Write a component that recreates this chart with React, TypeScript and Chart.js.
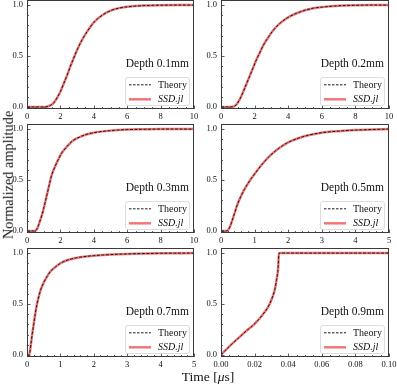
import React, { useEffect, useRef } from "react";
import { Chart, registerables } from "chart.js";

Chart.register(...registerables);

// ---------- data ----------
const depthLabels = ["Depth 0.1mm", "Depth 0.2mm", "Depth 0.3mm", "Depth 0.5mm", "Depth 0.7mm", "Depth 0.9mm"];
const seriesNames = ["Theory", "SSD.jl"];

const t01 = [0, 0.5, 1.0, 1.2, 1.4, 1.6, 1.8, 2.0, 2.2, 2.4, 2.6, 2.8, 3.0, 3.3, 3.6, 4.0, 4.5, 5.0, 5.5, 6.0, 7.0, 8.0, 9.0, 10];
const a01 = [0, 0, 0, 0.003, 0.015, 0.04, 0.09, 0.15, 0.23, 0.31, 0.4, 0.48, 0.56, 0.66, 0.74, 0.83, 0.9, 0.945, 0.97, 0.983, 0.995, 0.999, 1.0, 1.0];

const t02 = [0, 0.5, 0.7, 0.9, 1.1, 1.3, 1.5, 1.7, 1.9, 2.1, 2.3, 2.5, 2.8, 3.1, 3.5, 4.0, 4.5, 5.0, 5.5, 6.0, 7.0, 8.0, 9.0, 10];
const a02 = [0, 0, 0.002, 0.02, 0.07, 0.14, 0.22, 0.3, 0.38, 0.46, 0.53, 0.6, 0.68, 0.75, 0.82, 0.88, 0.92, 0.95, 0.97, 0.98, 0.993, 0.998, 1.0, 1.0];

const t03 = [0, 0.4, 0.5, 0.6, 0.7, 0.8, 0.9, 1.0, 1.1, 1.2, 1.3, 1.4, 1.5, 1.7, 1.9, 2.1, 2.4, 2.7, 3.0, 3.5, 4.0, 5.0, 6.0, 7.0, 8.0, 10];
const a03 = [0, 0, 0.002, 0.02, 0.06, 0.11, 0.16, 0.22, 0.29, 0.36, 0.43, 0.5, 0.56, 0.64, 0.71, 0.77, 0.83, 0.88, 0.91, 0.945, 0.965, 0.985, 0.995, 0.998, 1.0, 1.0];

const t05 = [0, 0.15, 0.2, 0.25, 0.3, 0.35, 0.4, 0.5, 0.6, 0.7, 0.8, 0.9, 1.0, 1.2, 1.4, 1.6, 1.8, 2.0, 2.3, 2.6, 3.0, 3.5, 4.0, 4.5, 5];
const a05 = [0, 0, 0.004, 0.03, 0.07, 0.12, 0.17, 0.27, 0.345, 0.41, 0.465, 0.515, 0.56, 0.645, 0.72, 0.78, 0.83, 0.87, 0.91, 0.94, 0.965, 0.98, 0.99, 0.996, 1.0];

const t07 = [0, 0.05, 0.08, 0.1, 0.12, 0.15, 0.2, 0.25, 0.3, 0.35, 0.4, 0.5, 0.6, 0.7, 0.8, 1.0, 1.2, 1.5, 2.0, 2.5, 3.0, 4.0, 5.0];
const a07 = [0, 0, 0.02, 0.06, 0.11, 0.19, 0.3, 0.41, 0.5, 0.57, 0.63, 0.71, 0.77, 0.82, 0.85, 0.9, 0.93, 0.955, 0.975, 0.985, 0.992, 0.998, 1.0];

const t09 = [0, 0.002, 0.005, 0.01, 0.015, 0.02, 0.025, 0.028, 0.03, 0.032, 0.033, 0.034, 0.0345, 0.04, 0.06, 0.08, 0.1];
const a09 = [0, 0.035, 0.085, 0.16, 0.235, 0.305, 0.4, 0.47, 0.54, 0.64, 0.73, 0.85, 1.0, 1.0, 1.0, 1.0, 1.0];

const times = [t01, t02, t03, t05, t07, t09];
const amps = [a01, a02, a03, a05, a07, a09];

const xTicks10 = [0, 2, 4, 6, 8, 10];
const xTicks5 = [0, 1, 2, 3, 4, 5];
const xTicksSmall = [0, 0.02, 0.04, 0.06, 0.08, 0.1];
const xTickSets = [xTicks10, xTicks10, xTicks10, xTicks5, xTicks5, xTicksSmall];
const xDecimals = [0, 0, 0, 0, 0, 2];
const xMinorStep = [0.5, 0.5, 0.5, 0.2, 0.2, 0.005];
const yTicks = [0, 0.5, 1.0];
const yMinorStep = 0.1;
const yMin = -0.02;
const yMax = 1.05;

// ---------- style ----------
const SERIF = "'Liberation Serif', 'DejaVu Serif', serif";
const RED = "rgba(240, 85, 85, 0.8)";
const BLACK = "#1a1a1a";

const decorPlugin = {
  id: "decor",
  afterDraw(chart: any, _args: any, opts: any) {
    const { ctx, chartArea: a, scales } = chart;
    const x = scales.x;
    const y = scales.y;
    const L = Math.round(a.left);
    const R = Math.round(a.right);
    const T = Math.round(a.top);
    const B = Math.round(a.bottom);
    ctx.save();
    // inward ticks
    ctx.strokeStyle = "#333";
    ctx.lineWidth = 0.8;
    ctx.beginPath();
    const xs = opts.xMinor;
    const nx = Math.round((x.max - x.min) / xs);
    for (let i = 0; i <= nx; i++) {
      const v = x.min + i * xs;
      const major = opts.xMajor.some((m: number) => Math.abs(m - v) < xs * 0.01);
      const px = Math.round(x.getPixelForValue(v)) + 0.5;
      ctx.moveTo(px, B);
      ctx.lineTo(px, B - (major ? 3.5 : 2));
    }
    for (let i = 0; i <= 10; i++) {
      const v = i * yMinorStep;
      const major = yTicks.some((m) => Math.abs(m - v) < 0.001);
      const py = Math.round(y.getPixelForValue(v)) + 0.5;
      ctx.moveTo(L, py);
      ctx.lineTo(L + (major ? 3.5 : 2), py);
    }
    ctx.stroke();
    // frame
    ctx.strokeStyle = "#3a3a3a";
    ctx.lineWidth = 1;
    ctx.strokeRect(L + 0.5, T + 0.5, R - L - 1, B - T - 1);

    // depth label
    ctx.fillStyle = "#111";
    ctx.font = `11.5px ${SERIF}`;
    ctx.textAlign = "right";
    ctx.textBaseline = "middle";
    ctx.fillText(opts.depth, R - 5, B - 45);

    // legend
    const bw = 64, bh = 28;
    const bx = R - 5 - bw;
    const by = B - 4 - bh;
    ctx.beginPath();
    (ctx as any).roundRect(bx + 0.5, by + 0.5, bw, bh, 2.5);
    ctx.fillStyle = "rgba(255,255,255,0.85)";
    ctx.fill();
    ctx.strokeStyle = "#d4d4d4";
    ctx.lineWidth = 0.8;
    ctx.stroke();

    const r1 = by + 7.8, r2 = by + 22.3;
    ctx.beginPath();
    ctx.setLineDash([2.5, 1.5]);
    ctx.strokeStyle = BLACK;
    ctx.lineWidth = 1;
    ctx.moveTo(bx + 4, r1);
    ctx.lineTo(bx + 26, r1);
    ctx.stroke();
    ctx.setLineDash([]);
    ctx.beginPath();
    ctx.strokeStyle = RED;
    ctx.lineWidth = 2.5;
    ctx.moveTo(bx + 4, r2);
    ctx.lineTo(bx + 26, r2);
    ctx.stroke();

    ctx.fillStyle = "#111";
    ctx.textAlign = "left";
    ctx.font = `10px ${SERIF}`;
    ctx.fillText(seriesNames[0], bx + 33, r1 + 0.5);
    ctx.font = `italic 10px ${SERIF}`;
    ctx.fillText(seriesNames[1], bx + 33, r2 + 0.5);
    ctx.restore();
  },
};

type PanelProps = { idx: number; left: number; top: number; width: number; height: number; padRight: number };

function Panel({ idx, left, top, width, height, padRight }: PanelProps) {
  const ref = useRef<HTMLCanvasElement>(null);
  useEffect(() => {
    const pts = times[idx].map((t, i) => ({ x: t, y: amps[idx][i] }));
    const xt = xTickSets[idx];
    const chart = new Chart(ref.current as HTMLCanvasElement, {
      type: "line",
      data: {
        datasets: [
          {
            label: seriesNames[0],
            data: pts,
            borderColor: BLACK,
            borderWidth: 1,
            borderDash: [3, 1.5],
            pointRadius: 0,
            cubicInterpolationMode: "monotone",
            order: 0,
          },
          {
            label: seriesNames[1],
            data: pts,
            borderColor: RED,
            borderWidth: 2.5,
            pointRadius: 0,
            cubicInterpolationMode: "monotone",
            order: 1,
          },
        ],
      },
      options: {
        animation: false,
        responsive: false,
        devicePixelRatio: 1,
        events: [],
        layout: { padding: { top: 0, right: padRight, bottom: 1, left: 0 } },
        plugins: {
          legend: { display: false },
          tooltip: { enabled: false },
          decor: { depth: depthLabels[idx], xMinor: xMinorStep[idx], xMajor: xt },
        } as any,
        scales: {
          x: {
            type: "linear",
            min: xt[0],
            max: xt[xt.length - 1],
            grid: { display: false, drawTicks: false },
            border: { display: false },
            afterBuildTicks: (s: any) => {
              s.ticks = xt.map((v) => ({ value: v }));
            },
            afterFit: (s: any) => {
              s.height = 14;
              s.paddingLeft = 0;
              s.paddingRight = 0;
            },
            ticks: {
              padding: 3,
              color: "#111",
              font: { family: SERIF, size: 8.5 },
              maxRotation: 0,
              autoSkip: false,
              callback: (v: any) => Number(v).toFixed(xDecimals[idx]),
            },
          },
          y: {
            type: "linear",
            min: yMin,
            max: yMax,
            grid: { display: false, drawTicks: false },
            border: { display: false },
            afterBuildTicks: (s: any) => {
              s.ticks = yTicks.map((v) => ({ value: v }));
            },
            afterFit: (s: any) => {
              s.width = 27;
              s.paddingTop = 0;
              s.paddingBottom = 0;
            },
            ticks: {
              padding: 4,
              color: "#111",
              font: { family: SERIF, size: 8.5 },
              autoSkip: false,
              callback: (v: any) => Number(v).toFixed(1),
            },
          },
        },
      },
      plugins: [decorPlugin],
    } as any);
    return () => chart.destroy();
  }, [idx]);
  return (
    <canvas
      ref={ref}
      width={width}
      height={height}
      style={{ position: "absolute", left, top, width, height }}
    />
  );
}

const colLeft = [0, 194];
const colWidth = [200, 203];
const colPadRight = [6, 8];
const rowTop = [0, 124, 248];

export default function App() {
  const panels = [];
  for (let r = 0; r < 3; r++) {
    for (let c = 0; c < 2; c++) {
      const idx = r * 2 + c;
      panels.push(
        <Panel
          key={idx}
          idx={idx}
          left={colLeft[c]}
          top={rowTop[r]}
          width={colWidth[c]}
          height={124}
          padRight={colPadRight[c]}
        />
      );
    }
  }
  return (
    <div style={{ position: "absolute", left: 0, top: 0, width: 397, height: 385, background: "#fff", overflow: "hidden" }}>
      {panels}
      <div
        style={{
          position: "absolute",
          left: 8,
          top: 175,
          transform: "translate(-50%, -50%) rotate(-90deg)",
          whiteSpace: "nowrap",
          fontFamily: SERIF,
          fontSize: 14.3,
          lineHeight: 1,
          color: "#111",
        }}
      >
        Normalized amplitude
      </div>
      <div
        style={{
          position: "absolute",
          left: 208,
          top: 377,
          transform: "translate(-50%, -50%)",
          whiteSpace: "nowrap",
          fontFamily: SERIF,
          fontSize: 13.5,
          lineHeight: 1,
          color: "#111",
        }}
      >
        Time [<i>μ</i>s]
      </div>
    </div>
  );
}
